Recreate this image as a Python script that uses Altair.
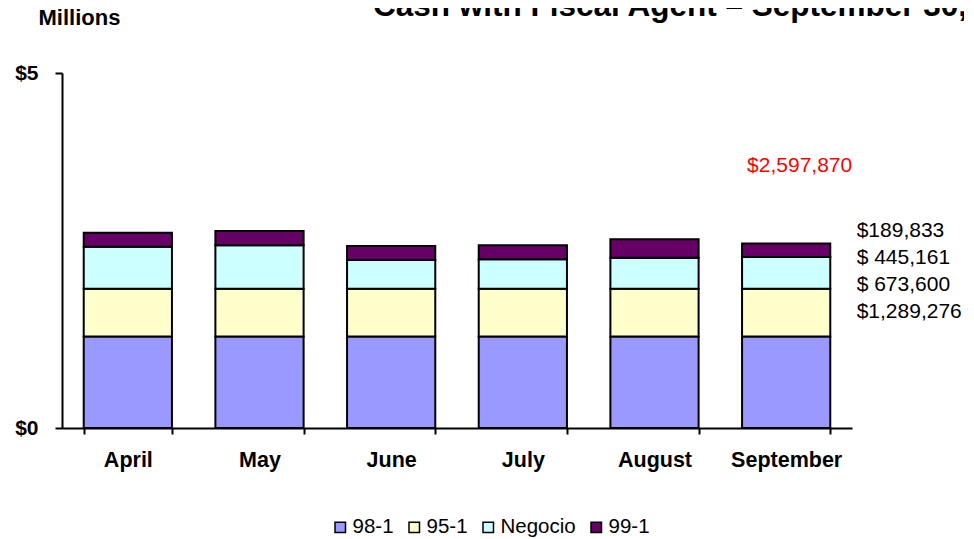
import altair as alt
import pandas as pd

months = ["April", "May", "June", "July", "August", "September"]
series = ["98-1", "95-1", "Negocio", "99-1"]
v_981 = [1.289276, 1.289276, 1.289276, 1.289276, 1.289276, 1.289276]
v_951 = [0.673600, 0.673600, 0.673600, 0.673600, 0.673600, 0.673600]
v_neg = [0.591, 0.610, 0.403, 0.413, 0.436, 0.445161]
v_991 = [0.197, 0.202, 0.197, 0.197, 0.258, 0.189833]
colors = ["#9999FF", "#FFFFCC", "#CCFFFF", "#660066"]

total_value = 2.597870
total_label = "$2,597,870"
side_labels = ["$189,833", "$ 445,161", "$ 673,600", "$1,289,276"]
title_text = "Cash with Fiscal Agent \u2013 September 30,"
y_labels = [0, 5]

FONT = "Liberation Sans"

rows = []
for s_i, (name, vals) in enumerate(zip(series, [v_981, v_951, v_neg, v_991])):
    for m, v in zip(months, vals):
        rows.append({"month": m, "series": name, "value": v, "order": s_i})
df = pd.DataFrame(rows)

bars = alt.Chart(df).mark_bar(stroke="black", strokeWidth=2).encode(
    x=alt.X(
        "month:N",
        sort=months,
        scale=alt.Scale(paddingInner=0.33, paddingOuter=0.165),
        axis=alt.Axis(
            title=None, labelAngle=0, labelFontSize=21.5, labelFontWeight="bold",
            labelFont=FONT, labelColor="black", labelBaseline="alphabetic",
            labelPadding=32.7, tickSize=6, tickWidth=2, tickColor="black",
            tickBand="extent", domainColor="black", domainWidth=2,
        ),
    ),
    y=alt.Y(
        "value:Q",
        stack="zero",
        scale=alt.Scale(domain=[0, 5], nice=False),
        axis=alt.Axis(
            values=y_labels, labelExpr="'$' + datum.value", labelFontSize=21,
            labelFontWeight="bold", labelFont=FONT, labelColor="black",
            labelPadding=17, tickSize=7, tickWidth=2, tickColor="black",
            domainColor="black", domainWidth=2, grid=False,
            title="Millions", titleAngle=0, titleAlign="left",
            titleBaseline="alphabetic", titleX=-24, titleY=-49,
            titleFontSize=22, titleFontWeight="bold", titleFont=FONT,
            titleColor="black",
        ),
    ),
    color=alt.Color(
        "series:N",
        sort=series,
        scale=alt.Scale(domain=series, range=colors),
        legend=alt.Legend(
            orient="none", legendX=268, legendY=444, direction="horizontal",
            title=None, symbolType="square", symbolSize=110,
            symbolStrokeColor="black", symbolStrokeWidth=1.5, symbolOpacity=1,
            labelFontSize=20.5, labelFont=FONT, labelColor="black",
            labelOffset=2, columnPadding=10, padding=0,
        ),
    ),
    order=alt.Order("order:Q"),
)

df_total = pd.DataFrame({"month": ["September"], "value": [total_value], "label": [total_label]})
total_text = alt.Chart(df_total).mark_text(
    color="#FF0000", fontSize=21, font=FONT, align="center",
    baseline="alphabetic", dx=13.5, dy=-72,
).encode(x=alt.X("month:N", sort=months), y="value:Q", text="label:N")

df_side = pd.DataFrame({"month": ["September"], "value": [total_value], "lines": [side_labels]})
side_text = alt.Chart(df_side).mark_text(
    color="black", fontSize=21, font=FONT, align="left",
    baseline="alphabetic", dx=70.5, dy=-7, lineHeight=27.2,
).encode(x=alt.X("month:N", sort=months), y="value:Q", text="lines")

df_title = pd.DataFrame({"t": [title_text]})
title = alt.Chart(df_title).mark_text(
    align="left", baseline="alphabetic", fontSize=31.5, fontWeight="bold",
    font=FONT, color="black",
).encode(text="t:N", x=alt.value(311), y=alt.value(-57.5))

chart = alt.layer(bars, total_text, side_text, title).properties(
    width=790,
    height=355,
    autosize=alt.AutoSizeParams(type="none"),
    padding={"left": 54, "top": 65, "right": 112, "bottom": 113},
    background="white",
).configure_view(stroke=None)

chart.save("out.html", embed_options={"renderer": "svg", "actions": False})
